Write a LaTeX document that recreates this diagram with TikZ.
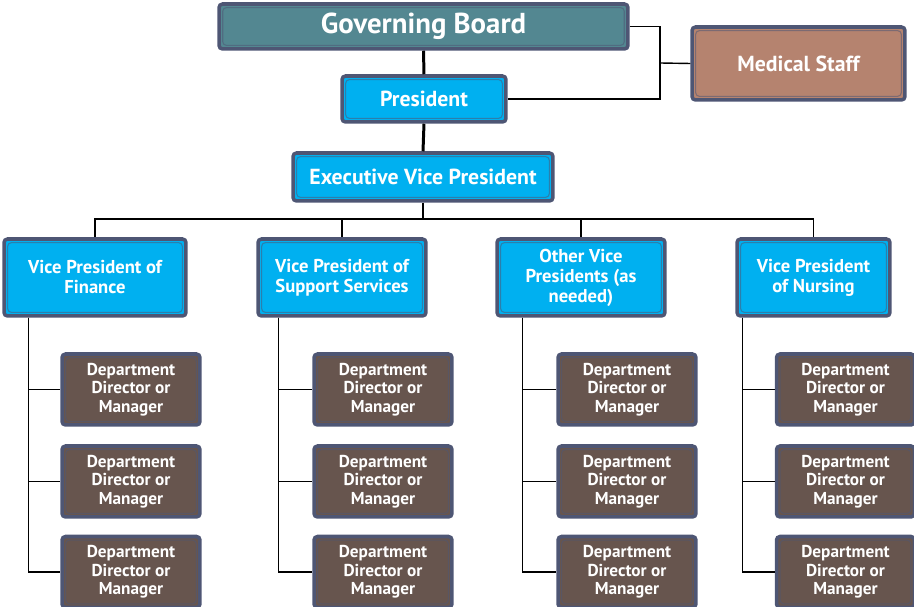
\documentclass[tikz,border=0pt]{standalone}
\usepackage{fontspec}
\setmainfont{PT Sans}
\usepackage{xcolor}
\usepackage{tikz}

\definecolor{rim}{HTML}{4E5674}
\definecolor{boardteal}{HTML}{538791}
\definecolor{vpblue}{HTML}{00B0F0}
\definecolor{medbrown}{HTML}{B5836F}
\definecolor{deptbrown}{HTML}{67554E}

\tikzset{
  box/.style={draw=rim, line width=2pt, rounded corners=2pt, text=white,
    align=center, inner sep=0pt, font=\bfseries,
    path picture={\draw[line width=0.6pt, draw=rim!55!#1]
      ([shift={(2.1pt,-2.1pt)}]path picture bounding box.north west) rectangle
      ([shift={(-2.1pt,2.1pt)}]path picture bounding box.south east);},
    fill=#1},
  link/.style={line width=0.8pt, draw=black},
  trunk/.style={line width=1.7pt, draw=black}
}

\begin{document}
\begin{tikzpicture}[x=0.02cm,y=-0.02cm]
  \useasboundingbox (0,0) rectangle (914,607);

  \node[box=boardteal, minimum width=8.18cm, minimum height=0.9cm,
        font=\fontsize{16.4}{19}\selectfont\bfseries] (board) at (423.5,26.5) {Governing Board};
  \node[box=vpblue, minimum width=3.28cm, minimum height=0.92cm,
        font=\fontsize{12.4}{14}\selectfont\bfseries] (pres) at (424,99) {President};
  \node[box=medbrown, minimum width=4.26cm, minimum height=1.46cm,
        font=\fontsize{12.4}{14}\selectfont\bfseries] (medstaff) at (798.5,63.5) {Medical Staff};
  \node[box=vpblue, minimum width=5.2cm, minimum height=0.96cm,
        font=\fontsize{12.4}{14}\selectfont\bfseries] (evp) at (423,177) {Executive Vice President};

  \node[box=vpblue, minimum width=3.64cm, minimum height=1.54cm,
        font=\fontsize{10.6}{11.4}\selectfont\bfseries] (finvp) at (95,277.5) {Vice President of\\Finance};
  \node[box=vpblue, minimum width=3.36cm, minimum height=1.54cm,
        font=\fontsize{10.6}{11.4}\selectfont\bfseries] (supvp) at (342,277.5) {Vice President of\\Support Services};
  \node[box=vpblue, minimum width=3.36cm, minimum height=1.54cm,
        font=\fontsize{10.6}{11.4}\selectfont\bfseries] (othvp) at (581,277.5) {Other Vice\\Presidents (as\\needed)};
  \node[box=vpblue, minimum width=3.06cm, minimum height=1.54cm,
        font=\fontsize{10.6}{11.4}\selectfont\bfseries] (nurvp) at (813.5,277.5) {Vice President\\of Nursing};

  \draw[trunk] (board.south) -- (pres.north);
  \draw[trunk] (pres.south) -- (evp.north);

  \coordinate (medjoin) at (660,63);
  \draw[link] (board.east) -| (medjoin) |- (pres.east);
  \draw[link] (medstaff.west) -- (medjoin);

  \coordinate (vpbus) at (423,219);
  \draw[link] (evp.south) -- (vpbus);
  \foreach \vp in {finvp,supvp,othvp,nurvp}
    \draw[link] (vpbus) -| (\vp.north);

  \foreach \vp/\off/\dx [count=\i] in {finvp/26/131, supvp/22/383, othvp/27/627, nurvp/7/845.5} {
    \foreach \dy [count=\j] in {389.5,481.5,572} {
      \node[box=deptbrown, minimum width=2.76cm, minimum height=1.42cm,
            font=\fontsize{9.8}{10.6}\selectfont\bfseries] (dept\i\j) at (\dx,\dy) {Department\\Director or\\Manager};
      \draw[link] (\vp.south west) ++(\off,0) |- (dept\i\j.west);
    }
  }
\end{tikzpicture}
\end{document}
